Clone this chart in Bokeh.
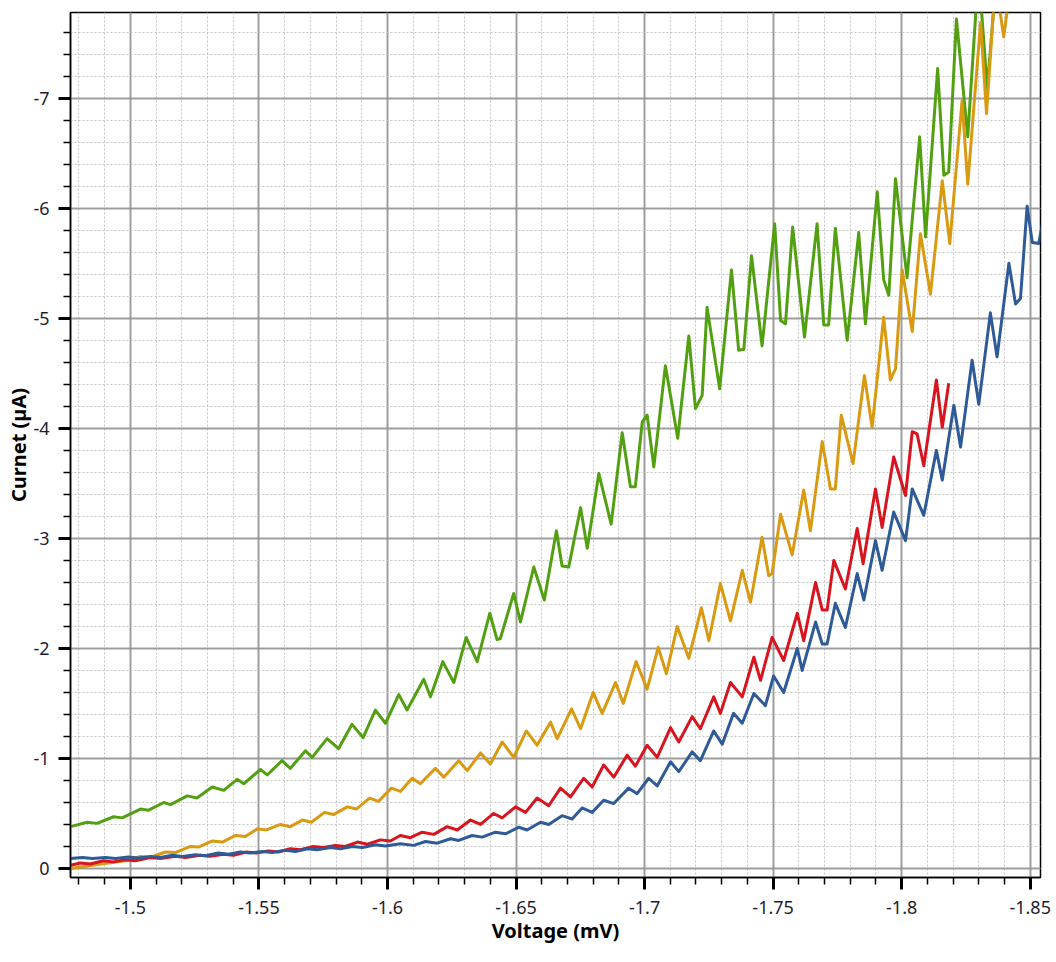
from bokeh.plotting import figure
from bokeh.models import Range1d, SingleIntervalTicker, CustomJSTickFormatter
from bokeh.embed import file_html
from bokeh.resources import INLINE

# ---- data (voltage as labelled "mV", current in µA) ----
green_v = [-1.4767, -1.4832, -1.4870, -1.4935, -1.4968, -1.5039, -1.5071, -1.5130, -1.5156, -1.5221,
           -1.5259, -1.5318, -1.5363, -1.5415, -1.5441, -1.5506, -1.5532, -1.5590, -1.5622, -1.5681,
           -1.5707, -1.5765, -1.5810, -1.5862, -1.5905, -1.5953, -1.5992, -1.6044, -1.6076, -1.6141,
           -1.6167, -1.6215, -1.6258, -1.6306, -1.6349, -1.6398, -1.6426, -1.6439, -1.6491, -1.6517,
           -1.6569, -1.6610, -1.6657, -1.6679, -1.6705, -1.6751, -1.6777, -1.6822, -1.6870, -1.6913,
           -1.6945, -1.6964, -1.6991, -1.7010, -1.7036, -1.7081, -1.7129, -1.7172, -1.7198, -1.7224,
           -1.7243, -1.7292, -1.7338, -1.7366, -1.7386, -1.7416, -1.7457, -1.7506, -1.7529, -1.7548,
           -1.7576, -1.7622, -1.7671, -1.7697, -1.7716, -1.7742, -1.7788, -1.7833, -1.7859, -1.7905,
           -1.7930, -1.7950, -1.7976, -1.8021, -1.8070, -1.8093, -1.8140, -1.8164, -1.8183, -1.8213,
           -1.8257, -1.8299, -1.8333, -1.8373]
green_i = [-0.38, -0.42, -0.41, -0.47, -0.46, -0.54, -0.53, -0.60, -0.58, -0.66,
           -0.64, -0.74, -0.71, -0.81, -0.77, -0.90, -0.85, -0.98, -0.91, -1.07,
           -1.01, -1.18, -1.09, -1.31, -1.19, -1.44, -1.32, -1.58, -1.44, -1.72,
           -1.56, -1.88, -1.69, -2.10, -1.88, -2.32, -2.08, -2.09, -2.50, -2.24,
           -2.74, -2.44, -3.07, -2.75, -2.74, -3.28, -2.91, -3.59, -3.13, -3.96,
           -3.47, -3.47, -4.06, -4.12, -3.65, -4.57, -3.91, -4.84, -4.18, -4.30,
           -5.10, -4.36, -5.44, -4.71, -4.72, -5.57, -4.75, -5.86, -4.98, -4.95,
           -5.83, -4.83, -5.86, -4.94, -4.94, -5.82, -4.80, -5.78, -4.95, -6.15,
           -5.35, -5.21, -6.27, -5.37, -6.65, -5.74, -7.27, -6.30, -6.33, -7.72,
           -6.65, -8.16, -7.09, -8.25]

gold_v = [-1.4767, -1.4852, -1.4914, -1.4981, -1.5039, -1.5078, -1.5136, -1.5175, -1.5233, -1.5265,
          -1.5319, -1.5358, -1.5408, -1.5447, -1.5494, -1.5529, -1.5584, -1.5622, -1.5669, -1.5704,
          -1.5755, -1.5790, -1.5844, -1.5879, -1.5930, -1.5965, -1.6015, -1.6050, -1.6096, -1.6128,
          -1.6186, -1.6219, -1.6277, -1.6310, -1.6362, -1.6400, -1.6446, -1.6491, -1.6540, -1.6582,
          -1.6634, -1.6660, -1.6716, -1.6751, -1.6800, -1.6835, -1.6887, -1.6917, -1.6967, -1.7010,
          -1.7053, -1.7085, -1.7127, -1.7172, -1.7221, -1.7250, -1.7295, -1.7334, -1.7380, -1.7412,
          -1.7457, -1.7483, -1.7496, -1.7529, -1.7574, -1.7619, -1.7645, -1.7691, -1.7723, -1.7742,
          -1.7765, -1.7811, -1.7855, -1.7885, -1.7930, -1.7956, -1.7976, -1.8002, -1.8041, -1.8073,
          -1.8112, -1.8158, -1.8187, -1.8235, -1.8257, -1.8307, -1.8330, -1.8365, -1.8397, -1.8431]
gold_i = [0.00, -0.03, -0.05, -0.07, -0.11, -0.10, -0.15, -0.145, -0.20, -0.195,
          -0.25, -0.24, -0.30, -0.29, -0.36, -0.35, -0.40, -0.38, -0.44, -0.42,
          -0.51, -0.49, -0.56, -0.54, -0.64, -0.61, -0.73, -0.70, -0.82, -0.77,
          -0.91, -0.83, -0.98, -0.89, -1.05, -0.95, -1.15, -1.01, -1.25, -1.12,
          -1.33, -1.18, -1.45, -1.27, -1.60, -1.41, -1.69, -1.50, -1.88, -1.63,
          -2.01, -1.77, -2.20, -1.91, -2.37, -2.07, -2.59, -2.25, -2.71, -2.42,
          -3.01, -2.66, -2.68, -3.22, -2.85, -3.44, -3.07, -3.88, -3.45, -3.45,
          -4.12, -3.68, -4.48, -4.01, -5.01, -4.44, -4.54, -5.44, -4.88, -5.77,
          -5.22, -6.25, -5.68, -6.98, -6.22, -7.69, -6.86, -8.07, -7.56, -8.16]

red_v = [-1.4767, -1.4806, -1.4844, -1.4895, -1.4934, -1.4981, -1.5019, -1.5078, -1.5117, -1.5175,
         -1.5214, -1.5272, -1.5311, -1.5362, -1.5401, -1.5451, -1.5490, -1.5537, -1.5576, -1.5622,
         -1.5661, -1.5712, -1.5751, -1.5797, -1.5836, -1.5883, -1.5922, -1.5972, -1.6011, -1.6050,
         -1.6089, -1.6135, -1.6180, -1.6232, -1.6271, -1.6323, -1.6362, -1.6413, -1.6446, -1.6498,
         -1.6537, -1.6582, -1.6627, -1.6673, -1.6712, -1.6763, -1.6796, -1.6841, -1.6880, -1.6932,
         -1.6964, -1.7010, -1.7049, -1.7101, -1.7133, -1.7185, -1.7217, -1.7269, -1.7295, -1.7334,
         -1.7380, -1.7425, -1.7451, -1.7496, -1.7541, -1.7594, -1.7619, -1.7665, -1.7691, -1.7710,
         -1.7736, -1.7781, -1.7827, -1.7850, -1.7898, -1.7924, -1.7969, -1.8015, -1.8041, -1.8060,
         -1.8086, -1.8135, -1.8158, -1.8183]
red_i = [-0.03, -0.05, -0.04, -0.07, -0.06, -0.08, -0.07, -0.10, -0.09, -0.11,
         -0.10, -0.12, -0.11, -0.13, -0.12, -0.15, -0.14, -0.16, -0.15, -0.18,
         -0.17, -0.20, -0.19, -0.21, -0.20, -0.24, -0.22, -0.26, -0.25, -0.30,
         -0.28, -0.33, -0.31, -0.38, -0.35, -0.44, -0.40, -0.50, -0.46, -0.56,
         -0.51, -0.64, -0.57, -0.73, -0.65, -0.82, -0.74, -0.94, -0.83, -1.03,
         -0.93, -1.12, -1.01, -1.28, -1.15, -1.38, -1.27, -1.56, -1.41, -1.69,
         -1.56, -1.92, -1.71, -2.10, -1.89, -2.32, -2.07, -2.60, -2.35, -2.35,
         -2.80, -2.54, -3.09, -2.77, -3.45, -3.10, -3.74, -3.39, -3.97, -3.95,
         -3.66, -4.44, -4.01, -4.41]

blue_v = [-1.4767, -1.4813, -1.4852, -1.4903, -1.4942, -1.4992, -1.5031, -1.5078, -1.5117, -1.5163,
          -1.5202, -1.5253, -1.5292, -1.5342, -1.5381, -1.5428, -1.5467, -1.5513, -1.5552, -1.5603,
          -1.5642, -1.5689, -1.5727, -1.5778, -1.5817, -1.5864, -1.5903, -1.5953, -1.5992, -1.6050,
          -1.6102, -1.6148, -1.6193, -1.6245, -1.6277, -1.6329, -1.6368, -1.6420, -1.6459, -1.6511,
          -1.6543, -1.6595, -1.6627, -1.6679, -1.6718, -1.6757, -1.6796, -1.6841, -1.6880, -1.6938,
          -1.6971, -1.7016, -1.7049, -1.7101, -1.7133, -1.7185, -1.7217, -1.7269, -1.7302, -1.7346,
          -1.7380, -1.7425, -1.7470, -1.7502, -1.7541, -1.7594, -1.7613, -1.7665, -1.7691, -1.7710,
          -1.7742, -1.7781, -1.7827, -1.7853, -1.7898, -1.7924, -1.7969, -1.8015, -1.8041, -1.8086,
          -1.8135, -1.8158, -1.8203, -1.8229, -1.8274, -1.8300, -1.8345, -1.8371, -1.8417, -1.8443,
          -1.8462, -1.8488, -1.8508, -1.8533, -1.8579]
blue_i = [-0.09, -0.10, -0.09, -0.10, -0.09, -0.105, -0.095, -0.11, -0.10, -0.12,
          -0.11, -0.125, -0.115, -0.14, -0.13, -0.15, -0.14, -0.155, -0.145, -0.165,
          -0.155, -0.18, -0.17, -0.19, -0.18, -0.20, -0.19, -0.215, -0.205, -0.225,
          -0.21, -0.245, -0.23, -0.27, -0.255, -0.30, -0.285, -0.33, -0.315, -0.375,
          -0.35, -0.42, -0.40, -0.48, -0.45, -0.55, -0.51, -0.62, -0.59, -0.73,
          -0.68, -0.82, -0.75, -0.97, -0.88, -1.06, -0.98, -1.25, -1.13, -1.41,
          -1.32, -1.59, -1.48, -1.75, -1.60, -2.00, -1.80, -2.24, -2.04, -2.04,
          -2.41, -2.19, -2.68, -2.44, -2.98, -2.71, -3.24, -2.98, -3.45, -3.21,
          -3.80, -3.53, -4.21, -3.83, -4.62, -4.22, -5.05, -4.65, -5.50, -5.13,
          -5.18, -6.02, -5.69, -5.68, -6.25]

x_title = "Voltage (mV)"
y_title = "Curnet (µA)"

p = figure(frame_width=970, frame_height=865,
           x_range=Range1d(-1.4767, -1.8540), y_range=Range1d(0.082, -7.78),
           output_backend="svg", toolbar_location=None,
           min_border_left=70, min_border_right=16, min_border_top=12, min_border_bottom=10,
           background_fill_color="white", border_fill_color="white")

p.outline_line_color = "black"
p.outline_line_width = 1.5

p.xaxis.ticker = SingleIntervalTicker(interval=0.05, num_minor_ticks=5)
p.yaxis.ticker = SingleIntervalTicker(interval=1, num_minor_ticks=5)
p.xaxis.formatter = CustomJSTickFormatter(code="return String(parseFloat(tick.toFixed(3)));")
p.yaxis.formatter = CustomJSTickFormatter(code="return String(parseFloat(tick.toFixed(3)));")

for ax in (p.xaxis[0], p.yaxis[0]):
    ax.axis_line_color = "black"
    ax.axis_line_width = 1.5
    ax.major_tick_out = 12
    ax.major_tick_in = 0
    ax.major_tick_line_width = 3
    ax.major_tick_line_color = "black"
    ax.minor_tick_out = 7
    ax.minor_tick_in = 0
    ax.minor_tick_line_width = 1.5
    ax.minor_tick_line_color = "black"
    ax.major_label_text_font = "Noto Sans"
    ax.major_label_text_font_size = "18px"
    ax.major_label_text_color = "#1e1e30"
    ax.axis_label_text_font = "Noto Sans"
    ax.axis_label_text_font_size = "20px"
    ax.axis_label_text_font_style = "bold"
    ax.axis_label_text_color = "black"

p.xaxis.axis_label = x_title
p.yaxis.axis_label = y_title
p.xaxis.major_label_standoff = 11
p.yaxis.major_label_standoff = 9
p.xaxis.axis_label_standoff = 0
p.yaxis.axis_label_standoff = -2

for g in (p.xgrid[0], p.ygrid[0]):
    g.grid_line_color = "#909090"
    g.grid_line_width = 2
    g.grid_line_alpha = 0.85
    g.minor_grid_line_color = "#c4c4c4"
    g.minor_grid_line_width = 1
    g.minor_grid_line_dash = "2 2"

p.line(green_v, green_i, line_color="#52a012", line_width=3, line_join="round")
p.line(gold_v, gold_i, line_color="#d99a12", line_width=3, line_join="round")
p.line(red_v, red_i, line_color="#d8141e", line_width=3, line_join="round")
p.line(blue_v, blue_i, line_color="#2e5a97", line_width=3, line_join="round")

open("out.html", "w").write(file_html(p, INLINE))
